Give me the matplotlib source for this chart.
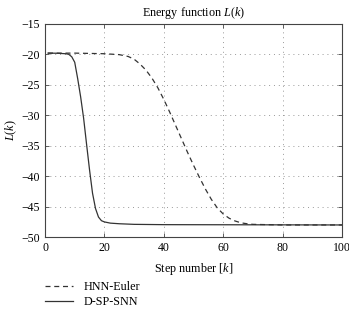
#!/usr/bin/env python3
"""Energy function L(k) for HNN-Euler and D-SP-SNN."""

import matplotlib

matplotlib.use("Agg")
import matplotlib.pyplot as plt  # noqa: I001

plt.rcParams["font.family"] = ["Liberation Serif", "DejaVu Serif"]
plt.rcParams["mathtext.fontset"] = "custom"
plt.rcParams["mathtext.rm"] = "Liberation Serif"
plt.rcParams["mathtext.it"] = "Liberation Serif:italic"

# values
hnn_k = [1, 10, 20, 25, 28, 30, 32, 34, 36, 38, 40, 42, 44, 46, 48, 50, 52, 54,
         56, 58, 60, 62, 64, 66, 68, 70, 75, 80, 100]
hnn_L = [-19.8, -19.8, -19.9, -20.05, -20.35, -20.8, -21.6, -22.6, -23.9,
         -25.5, -27.4, -29.5, -31.7, -33.9, -36.1, -38.2, -40.2, -42.1, -43.8,
         -45.2, -46.2, -46.9, -47.35, -47.65, -47.8, -47.9, -47.95, -48.0,
         -48.0]

snn_k = [1, 4, 7, 8, 9, 10, 11, 12, 13, 14, 15, 16, 17, 18, 19, 20, 22, 25, 30,
         40, 100]
snn_L = [-19.8, -19.82, -19.9, -20.0, -20.4, -21.3, -24.0, -27.0, -30.5, -34.8,
         -39.0, -42.8, -45.3, -46.7, -47.3, -47.5, -47.7, -47.8, -47.9, -47.95,
         -48.0]

x_ticks = [0, 20, 40, 60, 80, 100]
y_ticks = [-50, -45, -40, -35, -30, -25, -20, -15]

fig = plt.figure(figsize=(3.49, 3.10), dpi=100)
ax = fig.add_axes([0.129, 0.235, 0.851, 0.688])

ax.plot(hnn_k, hnn_L, color="#333333", linestyle=(0, (4, 3)), linewidth=0.9,
        label="HNN-Euler")
ax.plot(snn_k, snn_L, color="#333333", linestyle="-", linewidth=0.9,
        label="D-SP-SNN")

ax.set_xlim(0, 100)
ax.set_ylim(-50, -15)
ax.set_xticks(x_ticks)
ax.set_yticks(y_ticks)
ax.set_yticklabels([f"\u2212{abs(t)}" for t in y_ticks])
ax.tick_params(direction="in", top=True, right=True, labelsize=8.5, length=3,
               width=0.6, color="#444444")
ax.grid(True, linestyle=(0, (1, 4)), color="#999999", linewidth=0.7)
for spine in ax.spines.values():
    spine.set_linewidth(0.8)
    spine.set_color("#444444")

ax.set_title(r"Energy function $L(k)$", fontsize=8.7, pad=6)
ax.set_xlabel(r"Step number $[k]$", fontsize=8.7, labelpad=5)
ax.set_ylabel(r"$L(k)$", fontsize=8.7, labelpad=2)

fig.legend(loc="upper left", bbox_to_anchor=(0.115, 0.11), frameon=False,
           fontsize=8.7, handlelength=2.3, handletextpad=0.9, labelspacing=0.3,
           borderaxespad=0)

fig.savefig("out.png", dpi=100)
